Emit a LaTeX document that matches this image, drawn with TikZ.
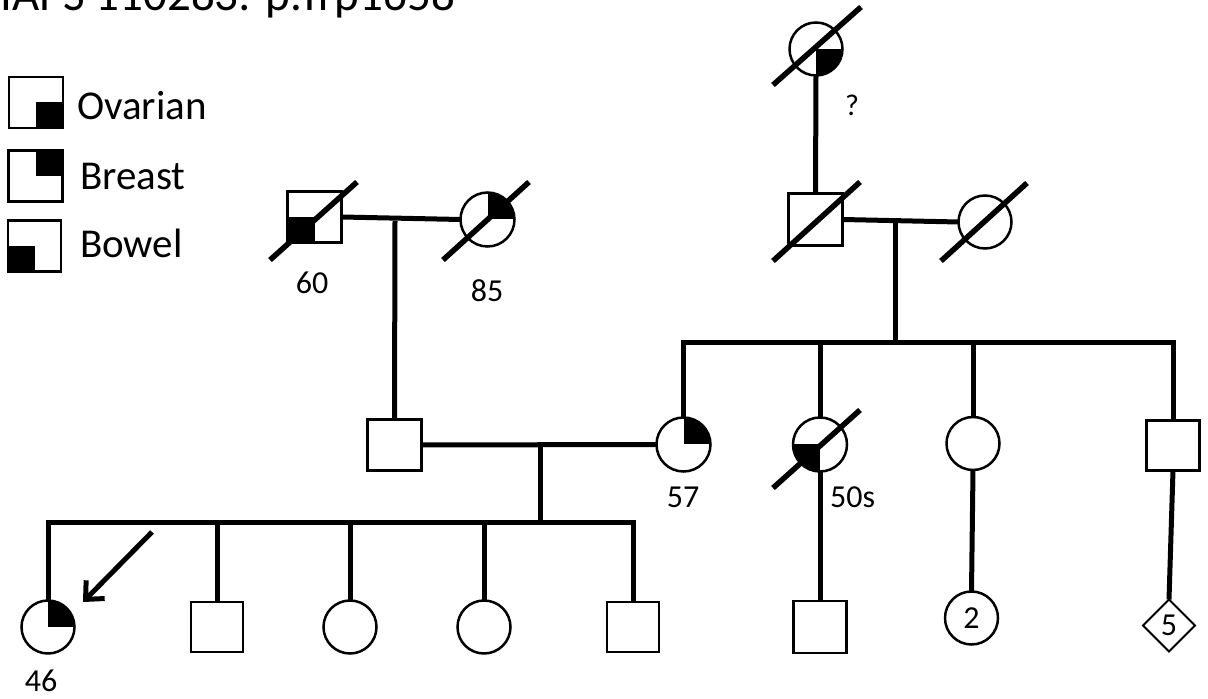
\documentclass[tikz,border=0pt]{standalone}
\usepackage{fontspec}
\setmainfont{Carlito}
\usetikzlibrary{shapes.geometric,arrows.meta,calc}
\begin{document}
\begin{tikzpicture}[x=1pt,y=1pt,
  conn/.style={line width=5pt},
  sq/.style={draw,line width=2.5pt,minimum width=52pt,minimum height=50pt,inner sep=0pt,outer sep=0pt},
  ci/.style={draw,circle,line width=2.5pt,minimum size=53pt,inner sep=0pt,outer sep=0pt},
  di/.style={draw,diamond,line width=2pt,minimum size=52pt,inner sep=0pt,outer sep=0pt,font=\fontsize{32}{36}\selectfont},
  cinum/.style={ci,font=\fontsize{32}{36}\selectfont},
  slash/.style={line width=5.5pt},
  lab/.style={inner sep=0pt,anchor=base,font=\fontsize{32}{38}\selectfont},
  leg/.style={inner sep=0pt,anchor=base west,font=\fontsize{41}{48}\selectfont}
]
\useasboundingbox (0,0) rectangle (1208,699);

% title (clipped at the top edge)
\node[inner sep=0pt,anchor=base west,font=\fontsize{47}{54}\selectfont] (title) at (0,688) {IAPS 110283: p.Trp1658};

% legend
\node[sq,minimum width=54pt,minimum height=51pt] (lov) at (36,596.5) {};
\fill (lov.center) rectangle (lov.south east);
\node[sq,minimum width=54pt,minimum height=51pt] (lbr) at (35.5,523) {};
\fill (lbr.center) rectangle (lbr.north east);
\node[sq,minimum width=53pt,minimum height=51pt] (lbo) at (34.5,453) {};
\fill (lbo.center) rectangle (lbo.south west);
\node[leg] (tov) at (77,579) {Ovarian};
\node[leg] (tbr) at (80,509) {Breast};
\node[leg] (tbo) at (80,441) {Bowel};

% generation I
\node[ci] (gg) at (816,650) {};
\begin{scope}\clip (gg.center) circle (26.5);\fill (gg.center) rectangle ++(30,-30);\end{scope}
\draw[slash] ($(gg.center)+(-43,-36)$) -- ($(gg.center)+(45,42)$);
\node[lab] (lq) at (852,583) {\fontsize{30}{34}\selectfont ?};

% generation II
\node[sq,minimum width=54pt,minimum height=51pt] (pgf) at (314.5,482) {};
\fill (pgf.center) rectangle (pgf.south west);
\draw[slash] ($(pgf.center)+(-44.5,-43)$) -- ($(pgf.center)+(42.5,35)$);
\node[lab] (l60) at (312,405) {60};

\node[ci,minimum size=54pt] (pgm) at (487.5,479.5) {};
\begin{scope}\clip (pgm.center) circle (27);\fill (pgm.center) rectangle ++(30,30);\end{scope}
\draw[slash] ($(pgm.center)+(-44.5,-40.5)$) -- ($(pgm.center)+(41.5,37.5)$);
\node[lab] (l85) at (487,397) {85};

\node[sq,minimum width=54pt,minimum height=52pt] (mgf) at (815.5,479.5) {};
\draw[slash] ($(mgf.center)+(-42.5,-41.5)$) -- ($(mgf.center)+(44.5,37.5)$);

\node[ci] (mgm) at (985,477) {};
\draw[slash] ($(mgm.center)+(-44,-39)$) -- ($(mgm.center)+(42,39)$);

% generation III
\node[sq,minimum width=54pt,minimum height=51pt] (fa) at (394.5,254) {};
\node[ci,minimum size=54pt] (mo) at (683.5,254.5) {};
\begin{scope}\clip (mo.center) circle (27);\fill (mo.center) rectangle ++(30,30);\end{scope}
\node[lab] (l57) at (683,191) {57};

\node[ci,minimum size=54pt] (au) at (820,254.5) {};
\begin{scope}\clip (au.center) circle (27);\fill (au.center) rectangle ++(-30,-30);\end{scope}
\draw[slash] ($(au.center)+(-47,-43.5)$) -- ($(au.center)+(40,34.5)$);
\node[lab,anchor=base west] (l50) at (830,191) {50s};

\node[ci] (au2) at (973,255.5) {};
\node[sq,minimum width=53pt,minimum height=50pt] (un) at (1173,253.5) {};

% generation IV
\node[ci] (pb) at (48,72) {};
\begin{scope}\clip (pb.center) circle (26.5);\fill (pb.center) rectangle ++(30,30);\end{scope}
\node[lab] (l46) at (41,7) {46};
\node[sq] (s2) at (217,72) {};
\node[ci] (s3) at (350,72) {};
\node[ci] (s4) at (484,72) {};
\node[sq] (s5) at (633,72) {};
\node[sq,minimum width=53pt,minimum height=52pt] (co) at (820,72) {};
\node[cinum] (c2) at (971.5,81) {2};
\node[di] (c5) at (1169,73.5) {5};

% connectors
\coordinate (m1) at (395,478);
\coordinate (m2) at (895,477);
\coordinate (sib3) at (895,356);
\coordinate (m3) at (540,253);
\coordinate (sib4) at (540,176);

\draw[conn] (gg.south) -- (mgf.north);
\draw[conn] (pgf.east) -- (pgm.west);
\draw[conn] (m1) -- (fa.north);
\draw[conn] (mgf.east) -- (mgm.west);
\draw[conn] (m2) -- (sib3);
\draw[conn,line cap=rect] (mo.north |- sib3) -- (un.north |- sib3);
\draw[conn] (mo.north |- sib3) -- (mo.north);
\draw[conn] (au.north |- sib3) -- (au.north);
\draw[conn] (au2.north |- sib3) -- (au2.north);
\draw[conn] (un.north |- sib3) -- (un.north);

\draw[conn] (fa.east) -- (mo.west);
\draw[conn] (m3) -- (sib4);
\draw[conn,line cap=rect] (pb.north |- sib4) -- (s5.north |- sib4);
\draw[conn] (pb.north |- sib4) -- (pb.north);
\draw[conn] (s2.north |- sib4) -- (s2.north);
\draw[conn] (s3.north |- sib4) -- (s3.north);
\draw[conn] (s4.north |- sib4) -- (s4.north);
\draw[conn] (s5.north |- sib4) -- (s5.north);

\draw[conn] (au.south) -- (co.north);
\draw[conn] (au2.south) -- (c2.north);
\draw[conn] (un.south) -- (c5.north);

% proband arrow
\coordinate (arrs) at (152,167);
\draw[line width=5pt,-{Straight Barb[length=14pt,width=26pt]}] (arrs) -- ($(pb.center)+(35,25)$);
\end{tikzpicture}
\end{document}
